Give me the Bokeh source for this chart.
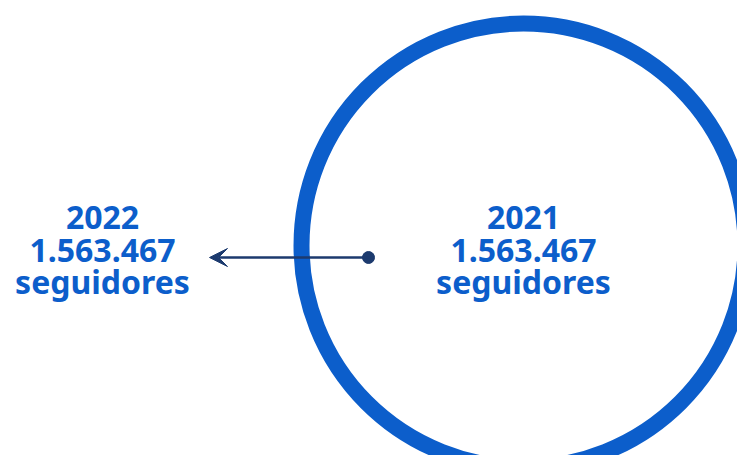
from bokeh.plotting import figure
from bokeh.models import Range1d, Arrow, VeeHead, ColumnDataSource
from bokeh.core.properties import value
from bokeh.embed import file_html
from bokeh.resources import INLINE

# data
years = ["2021", "2022"]
followers = ["1.563.467", "1.563.467"]
unit = ["seguidores", "seguidores"]

W, H = 737, 455
p = figure(width=W, height=H, output_backend="svg", toolbar_location=None,
           x_range=Range1d(0, W), y_range=Range1d(H, 0),
           min_border=0, outline_line_color=None)
p.axis.visible = False
p.grid.visible = False
p.background_fill_color = "white"
p.border_fill_color = "white"

blue = "#0c5ecb"
navy = "#1c3a6e"

# big ring for 2021
p.circle(x=[523], y=[245], radius=222, fill_color=None, line_color=blue, line_width=16)

# arrow
p.add_layout(Arrow(end=VeeHead(size=18, fill_color=navy, line_color=navy, line_width=1),
                   x_start=368, y_start=257, x_end=209, y_end=257,
                   line_color=navy, line_width=2.5))
p.scatter(x=[368], y=[257], size=12, marker="circle", fill_color=navy, line_color=navy)

# labels
cx = [523, 102]
src = ColumnDataSource(dict(x=cx, y1=[217, 217], y2=[250, 250], y3=[281, 281],
                            t1=years, t2=followers, t3=unit))
for ycol, tcol in (("y1", "t1"), ("y2", "t2"), ("y3", "t3")):
    p.text(x="x", y=ycol, text=tcol, source=src, text_font=value("Noto Sans"),
           text_font_style="bold", text_font_size="32px", text_color=blue,
           text_align="center", text_baseline="alphabetic")

open("out.html", "w").write(file_html(p, INLINE))
